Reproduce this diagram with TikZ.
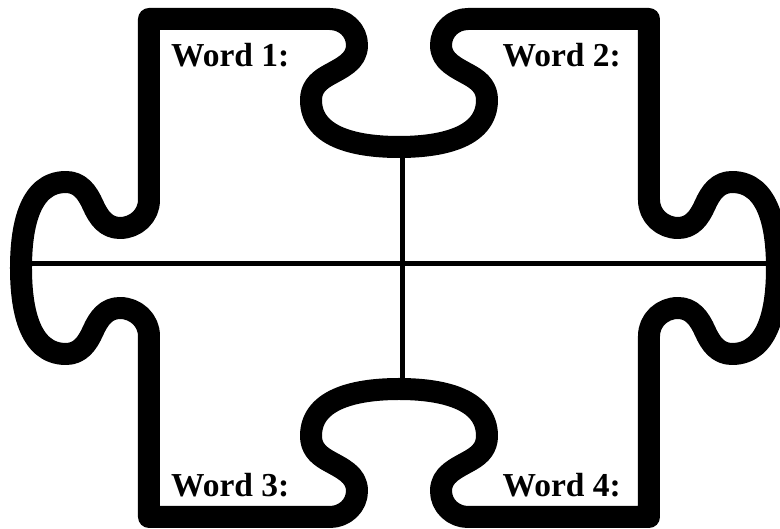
\documentclass[tikz,border=0pt]{standalone}
\usepackage{fontspec}
\setmainfont{Liberation Serif}
\tikzset{
  piece/.style={line width=22pt, line join=round},
  cut/.style={line width=5pt},
  word/.style={inner sep=0pt, font=\fontsize{33.5}{36}\selectfont\bfseries}
}
\begin{document}
\begin{tikzpicture}[x=1pt,y=1pt]
\useasboundingbox (-399,-261) rectangle (381,268);
% ends of the two dividing lines
\coordinate (P1) at (-378,4);
\coordinate (P2) at (378,4);
\coordinate (P3) at (4,121);
\coordinate (P4) at (4,-121);
\draw[cut] (P1) -- (P2);
\draw[cut] (P3) -- (P4);
% outline of the piece
\draw[piece] (-378,0) to[out=90,in=180] (-333,86) to[out=0,in=114] (-306,63)
  to[out=-66,in=180] (-279,40) to[out=0,in=-90] (-250,68) -- (-250,249) -- (-69,249)
  to[out=0,in=90] (-42,223) to[out=-90,in=30] (-72,192) to[out=210,in=90] (-88,168)
  to[out=-90,in=180] (0,121)
  to[out=0,in=-90] (88,168) to[out=90,in=-30] (72,192) to[out=150,in=-90] (42,223)
  to[out=90,in=180] (69,249) -- (250,249) -- (250,68)
  to[out=-90,in=180] (279,40) to[out=0,in=-114] (306,63) to[out=66,in=180] (333,86)
  to[out=0,in=90] (378,0)
  to[out=-90,in=0] (333,-86) to[out=180,in=-66] (306,-63) to[out=114,in=0] (279,-40)
  to[out=180,in=90] (250,-68) -- (250,-249) -- (69,-249)
  to[out=180,in=-90] (42,-223) to[out=90,in=210] (72,-192) to[out=30,in=-90] (88,-168)
  to[out=90,in=0] (0,-121)
  to[out=180,in=90] (-88,-168) to[out=-90,in=150] (-72,-192) to[out=-30,in=90] (-42,-223)
  to[out=-90,in=0] (-69,-249) -- (-250,-249) -- (-250,-68)
  to[out=90,in=0] (-279,-40) to[out=180,in=66] (-306,-63) to[out=-114,in=0] (-333,-86)
  to[out=180,in=-90] (-378,0) -- cycle;
% labels
\node[word, anchor=base west](W1) at (-228,201) {Word 1:};
\node[word, anchor=base east](W2) at (222,201) {Word 2:};
\node[word, anchor=base west](W3) at (-228,-229) {Word 3:};
\node[word, anchor=base east](W4) at (222,-229) {Word 4:};
\end{tikzpicture}
\end{document}
